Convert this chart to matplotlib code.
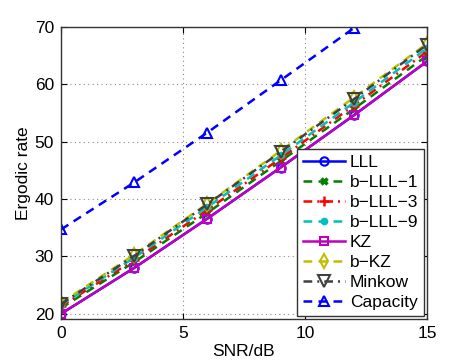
import matplotlib
matplotlib.use("Agg")
import matplotlib.pyplot as plt

plt.rcParams['font.family'] = ['Liberation Sans', 'DejaVu Sans']

snr = [0, 3, 6, 9, 12, 15]
snr_cap = [0, 3, 6, 9, 12]
lll = [20.0, 28.0, 36.6, 45.5, 54.6, 64.0]
blll1 = [21.0, 29.0, 37.6, 46.6, 55.7, 65.0]
blll3 = [21.3, 29.4, 38.1, 47.1, 56.3, 65.7]
blll9 = [21.5, 29.8, 38.6, 47.6, 56.8, 66.3]
kz = [20.0, 28.0, 36.6, 45.5, 54.6, 64.0]
bkz = [21.9, 30.3, 39.2, 48.4, 57.7, 67.1]
minkow = [21.7, 30.1, 39.1, 48.2, 57.4, 66.9]
capacity = [34.7, 42.9, 51.6, 60.7, 69.8]

fig = plt.figure(figsize=(4.71, 3.6), dpi=100)
ax = fig.add_axes([0.1295, 0.114, 0.777, 0.811])

lw = 1.8
dash = (3.5, 2.5)
dashdot = (3.5, 2, 0.8, 2)
ax.plot(snr, lll, '-', color='blue', lw=lw, marker='o', ms=6, mfc='none', mew=1.5, label='LLL')
ax.plot(snr, blll1, color=(0, 0.5, 0), lw=lw, dashes=dash, marker='x', ms=4.5, mew=2.5, label='b\u2212LLL\u22121')
ax.plot(snr, blll3, color='red', lw=lw, dashes=dashdot, marker='+', ms=7, mew=1.8, label='b\u2212LLL\u22123')
ax.plot(snr, blll9, color=(0, 0.75, 0.75), lw=lw, dashes=dash, marker='o', ms=4.5, mew=1, label='b\u2212LLL\u22129')
ax.plot(snr, kz, '-', color=(0.75, 0, 0.75), lw=lw, marker='s', ms=6, mfc='none', mew=1.5, label='KZ')
ax.plot(snr, bkz, color=(0.75, 0.75, 0), lw=lw, dashes=dash, marker='d', ms=7, mfc='none', mew=1.5, label='b\u2212KZ')
ax.plot(snr, minkow, color=(0.25, 0.25, 0.25), lw=lw, dashes=dashdot, marker='v', ms=8, mfc='none', mew=1.5, label='Minkow')
ax.plot(snr_cap, capacity, color='blue', lw=lw, dashes=dash, marker='^', ms=7, mfc='none', mew=1.5, label='Capacity')

ax.set_xlim(0, 15)
ax.set_ylim(19.1, 70)
ax.set_xticks([0, 5, 10, 15])
ax.set_yticks([20, 30, 40, 50, 60, 70])
ax.tick_params(direction='in', top=True, right=True, labelsize=12.5, length=4, pad=5)
ax.grid(True, linestyle=(0, (1, 3)), color='#888888', lw=0.8)
for s in ax.spines.values():
    s.set_color('#333333')
    s.set_linewidth(1.0)

ax.set_xlabel('SNR/dB', fontsize=12.5, labelpad=2)
ax.set_ylabel('Ergodic rate', fontsize=12.5, labelpad=3)

leg = ax.legend(loc='lower right', fontsize=12.5, handlelength=2.4, labelspacing=0.28,
                fancybox=False, framealpha=1, edgecolor='#333333', borderpad=0.35,
                handletextpad=0.3, borderaxespad=0.15)
leg.get_frame().set_linewidth(1.0)

fig.savefig('out.png', dpi=100)
